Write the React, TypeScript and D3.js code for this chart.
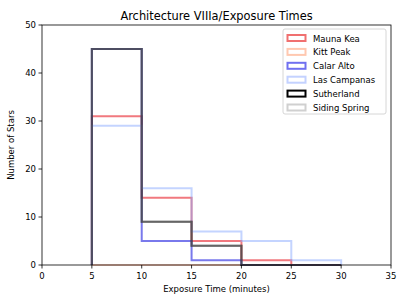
import React from 'react';
import * as d3 from 'd3';

const binEdges = [5, 10, 15, 20, 25, 30];
const stations = ['Mauna Kea', 'Kitt Peak', 'Calar Alto', 'Las Campanas', 'Sutherland', 'Siding Spring'];
const maunaKea = [31, 14, 5, 1, 0];
const kittPeak = [0, 0, 0, 0, 0];
const calarAlto = [45, 5, 1, 0, 0];
const lasCampanas = [29, 16, 7, 5, 1];
const sutherland = [45, 9, 4, 0, 0];
const sidingSpring = [45, 9, 4, 0, 0];
const xTicks = [0, 5, 10, 15, 20, 25, 30, 35];
const yTicks = [0, 10, 20, 30, 40, 50];

const counts = [maunaKea, kittPeak, calarAlto, lasCampanas, sutherland, sidingSpring];
const lineColors = ['#e8202a', '#ff9f7a', '#2020e0', '#8aaaff', '#000000', '#666666'];
const lineAlpha = [0.6, 0.5, 0.6, 0.5, 0.6, 0.55];
const legendColors = ['#f07070', '#ffc8b0', '#7070f0', '#c4d2ff', '#000000', '#d0d0d0'];

const W = 407;
const H = 305;
const margin = { top: 25, right: 16, bottom: 40, left: 42 };

export default function App() {
  const x = d3.scaleLinear().domain([0, 35]).range([margin.left, W - margin.right]);
  const y = d3.scaleLinear().domain([0, 50]).range([H - margin.bottom, margin.top]);
  const font = 'DejaVu Sans, sans-serif';

  // outline of a step histogram, like matplotlib histtype='step'
  const stepPath = (vals: number[]) => {
    const pts: [number, number][] = [[binEdges[0], 0]];
    vals.forEach((v, i) => {
      pts.push([binEdges[i], v]);
      pts.push([binEdges[i + 1], v]);
    });
    pts.push([binEdges[binEdges.length - 1], 0]);
    return d3.line<[number, number]>().x(d => x(d[0])).y(d => y(d[1]))(pts) || '';
  };

  const legendX = 283;
  const legendY = 29;
  const rowH = 13.9;

  return (
    <svg width={W} height={H} style={{ position: 'absolute', left: 0, top: 0, background: '#fff' }} fontFamily={font}>
      <rect x={0} y={0} width={W} height={H} fill="#fff" />
      <text x={(x(0) + x(35)) / 2} y={20} textAnchor="middle" fontSize={11.4}>Architecture VIIIa/Exposure Times</text>

      {counts.map((c, i) => (
        <path key={stations[i]} d={stepPath(c)} fill="none" stroke={lineColors[i]}
          strokeOpacity={lineAlpha[i]} strokeWidth={2} strokeLinejoin="miter" />
      ))}

      <rect x={x(0)} y={y(50)} width={x(35) - x(0)} height={y(0) - y(50)} fill="none" stroke="#000" strokeWidth={0.8} />

      {xTicks.map(t => (
        <g key={'x' + t}>
          <line x1={x(t)} x2={x(t)} y1={y(0)} y2={y(0) + 3.5} stroke="#000" strokeWidth={0.8} />
          <text x={x(t)} y={y(0) + 14} textAnchor="middle" fontSize={8.5}>{t}</text>
        </g>
      ))}
      {yTicks.map(t => (
        <g key={'y' + t}>
          <line x1={x(0) - 3.5} x2={x(0)} y1={y(t)} y2={y(t)} stroke="#000" strokeWidth={0.8} />
          <text x={x(0) - 6} y={y(t) + 3} textAnchor="end" fontSize={8.5}>{t}</text>
        </g>
      ))}

      <text x={(x(0) + x(35)) / 2} y={292} textAnchor="middle" fontSize={8.5}>Exposure Time (minutes)</text>
      <text transform={`translate(14,${(y(0) + y(50)) / 2}) rotate(-90)`} textAnchor="middle" fontSize={8.5}>Number of Stars</text>

      <rect x={legendX} y={legendY} width={103} height={85} rx={2} fill="#fff" fillOpacity={0.8} stroke="#ccc" strokeWidth={0.8} />
      {stations.map((s, i) => (
        <g key={'lg' + s}>
          <rect x={legendX + 4.5} y={legendY + 6 + i * rowH} width={18} height={6} fill="none"
            stroke={legendColors[i]} strokeWidth={2} />
          <text x={legendX + 30} y={legendY + 12.5 + i * rowH} fontSize={8.5}>{s}</text>
        </g>
      ))}
    </svg>
  );
}
